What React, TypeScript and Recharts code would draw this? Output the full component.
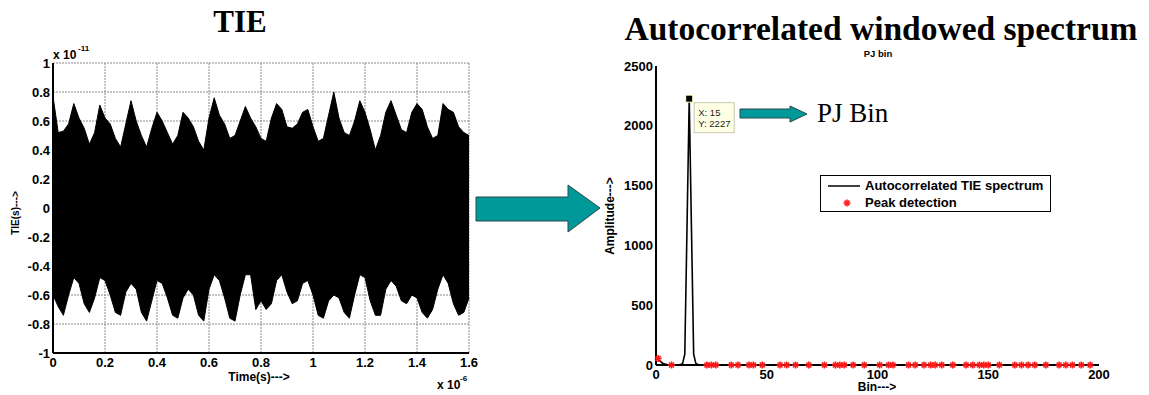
import React from "react";
import { ComposedChart, Area, Line, Scatter, XAxis, YAxis, CartesianGrid, Legend, ReferenceDot } from "recharts";

// TIE plot (values in units of 1e-11 s, time in units of 1e-6 s)
const tieTicksX = [0, 0.2, 0.4, 0.6, 0.8, 1, 1.2, 1.4, 1.6];
const tieTicksY = [-1, -0.8, -0.6, -0.4, -0.2, 0, 0.2, 0.4, 0.6, 0.8, 1];
const tieUpper = [
  0.77, 0.52, 0.53, 0.58, 0.72, 0.62, 0.55, 0.44, 0.52, 0.71,
  0.62, 0.58, 0.48, 0.42, 0.58, 0.74, 0.6, 0.5, 0.42, 0.55,
  0.66, 0.6, 0.52, 0.44, 0.5, 0.66, 0.62, 0.56, 0.46, 0.4,
  0.62, 0.76, 0.64, 0.58, 0.48, 0.5, 0.6, 0.7, 0.62, 0.56,
  0.48, 0.46, 0.62, 0.72, 0.68, 0.56, 0.55, 0.58, 0.66, 0.68,
  0.56, 0.46, 0.48, 0.64, 0.8, 0.62, 0.52, 0.5, 0.6, 0.74,
  0.66, 0.54, 0.4, 0.5, 0.66, 0.74, 0.64, 0.54, 0.52, 0.66,
  0.72, 0.68, 0.56, 0.48, 0.5, 0.72, 0.68, 0.66, 0.56, 0.52,
  0.5,
];
const tieLower = [
  -0.6, -0.68, -0.74, -0.6, -0.48, -0.52, -0.66, -0.72, -0.62, -0.48,
  -0.5, -0.6, -0.72, -0.74, -0.58, -0.52, -0.56, -0.72, -0.78, -0.64,
  -0.5, -0.52, -0.62, -0.74, -0.76, -0.62, -0.56, -0.6, -0.74, -0.78,
  -0.56, -0.46, -0.5, -0.62, -0.76, -0.78, -0.6, -0.46, -0.46, -0.7,
  -0.64, -0.7, -0.66, -0.5, -0.46, -0.58, -0.66, -0.64, -0.52, -0.5,
  -0.6, -0.74, -0.76, -0.64, -0.6, -0.62, -0.72, -0.76, -0.6, -0.46,
  -0.48, -0.64, -0.74, -0.74, -0.56, -0.5, -0.54, -0.64, -0.66, -0.6,
  -0.62, -0.72, -0.76, -0.7, -0.56, -0.46, -0.52, -0.66, -0.74, -0.72,
  -0.62,
];
const tieStep = 0.02;

// spectrum plot
const binTicks = [0, 50, 100, 150, 200];
const ampTicks = [0, 500, 1000, 1500, 2000, 2500];
const specBins = [0, 1, 2, 3, 4, 5, 6, 8, 10, 11, 12, 13, 14, 15, 16, 17, 18, 19, 20, 60, 120, 200];
const specAmp = [60, 50, 30, 15, 8, 4, 2, 0, 0, 3, 12, 90, 1150, 2227, 1150, 90, 12, 3, 0, 0, 0, 0];
const peakBins = [
  1, 7, 23, 25, 27, 34, 37, 42, 44, 48, 56, 59, 63, 69, 76, 81, 83, 85, 89, 94,
  101, 105, 107, 114, 117, 121, 124, 126, 129, 134, 140, 143, 146, 148, 150, 155,
  162, 165, 168, 171, 176, 182, 185, 188, 192, 196,
];
const peakAmp = [
  55, 0, 0, 0, 0, 0, 0, 0, 0, 0, 0, 0, 0, 0, 0, 0, 0, 0, 0, 0,
  0, 0, 0, 0, 0, 0, 0, 0, 0, 0, 0, 0, 0, 0, 0, 0,
  0, 0, 0, 0, 0, 0, 0, 0, 0, 0,
];
const pjBin = 15;
const pjAmp = 2227;

const tieData = tieUpper.map((u, i) => ({ t: +(i * tieStep).toFixed(2), range: [tieLower[i], u] }));
const specData = specBins.map((b, i) => ({ bin: b, amp: specAmp[i] }));
const peakData = peakBins.map((b, i) => ({ bin: b, amp: peakAmp[i] }));

const SANS = "'Liberation Sans', Arial, sans-serif";
const SERIF = "'Liberation Serif', 'Times New Roman', serif";
const tickStyle = { fontSize: 13, fontWeight: 700, fill: "#000", fontFamily: SANS };
const fmt1 = (v: number) => String(+v.toFixed(1));
const TEAL = "#009999";

function Star({ cx, cy }: any) {
  const r = 3.5;
  return (
    <g stroke="#ff1a1a" strokeWidth={1.6}>
      <line x1={cx - r} y1={cy} x2={cx + r} y2={cy} />
      <line x1={cx} y1={cy - r} x2={cx} y2={cy + r} />
      <line x1={cx - r * 0.7} y1={cy - r * 0.7} x2={cx + r * 0.7} y2={cy + r * 0.7} />
      <line x1={cx - r * 0.7} y1={cy + r * 0.7} x2={cx + r * 0.7} y2={cy - r * 0.7} />
    </g>
  );
}

function DataTip(p: any) {
  const { cx, cy } = p;
  return (
    <g>
      <rect x={cx - 3.5} y={cy - 3.5} width={7} height={7} fill="#000" stroke="#ffffcc" strokeWidth={1} />
      <rect x={cx + 5} y={cy + 4} width={40} height={30} fill="#ffffe6" stroke="#c8c8b4" strokeWidth={1} />
      <text x={cx + 9} y={cy + 17} fontSize={9.5} fontFamily={SANS} fill="#222">X: {pjBin}</text>
      <text x={cx + 9} y={cy + 28} fontSize={9.5} fontFamily={SANS} fill="#222">Y: {pjAmp}</text>
    </g>
  );
}

function SpecLegend({ payload }: any) {
  return (
    <div style={{ border: "1.5px solid #000", background: "#fff", width: 229, height: 35, boxSizing: "content-box" }}>
      {(payload || []).map((e: any, i: number) => (
        <div key={i} style={{ display: "flex", alignItems: "center", height: 17, marginTop: i === 0 ? 1 : 0 }}>
          <svg width={44} height={17}>
            {e.type === "line" ? (
              <line x1={7} y1={9} x2={39} y2={9} stroke="#000" strokeWidth={1.5} />
            ) : (
              <Star cx={26} cy={9} />
            )}
          </svg>
          <span style={{ fontFamily: SANS, fontWeight: 700, fontSize: 13, color: "#000" }}>{e.value}</span>
        </div>
      ))}
    </div>
  );
}

function TieChart() {
  return (
    <ComposedChart width={480} height={395} data={tieData} margin={{ top: 63, right: 11, bottom: 0, left: 0 }}>
      <CartesianGrid stroke="#8a8a8a" strokeDasharray="2 1" horizontalValues={tieTicksY} verticalValues={tieTicksX} />
      <XAxis
        dataKey="t"
        type="number"
        domain={[0, 1.6]}
        ticks={tieTicksX}
        tickFormatter={fmt1}
        height={42}
        tickSize={4}
        tickMargin={1}
        tickLine={false}
        tick={tickStyle}
        axisLine={{ stroke: "#000", strokeWidth: 2 }}
        interval={0}
      />
      <XAxis xAxisId="top" orientation="top" type="number" domain={[0, 1.6]} ticks={tieTicksX} height={0} mirror tick={false} tickLine={false} axisLine={{ stroke: "#000", strokeWidth: 2 }} />
      <YAxis
        type="number"
        domain={[-1, 1]}
        ticks={tieTicksY}
        tickFormatter={fmt1}
        width={53}
        tickSize={3}
        tickMargin={0}
        tickLine={false}
        tick={tickStyle}
        axisLine={{ stroke: "#000", strokeWidth: 2 }}
        interval={0}
      />
      <YAxis yAxisId="right" orientation="right" type="number" domain={[-1, 1]} ticks={tieTicksY} width={0} mirror tick={false} tickLine={false} axisLine={{ stroke: "#000", strokeWidth: 2 }} />
      <Area dataKey="range" type="linear" stroke="#000" strokeWidth={1} fill="#000" fillOpacity={1} isAnimationActive={false} dot={false} activeDot={false} />
    </ComposedChart>
  );
}

function SpecChart() {
  const inner = { stroke: "#000", strokeWidth: 1 };
  const frame = { stroke: "#000", strokeWidth: 2 };
  return (
    <ComposedChart width={549} height={395} margin={{ top: 66, right: 50, bottom: 0, left: 0 }}>
      <XAxis
        dataKey="bin"
        type="number"
        domain={[0, 200]}
        ticks={binTicks}
        height={30}
        tickSize={4}
        tickMargin={1}
        tickLine={false}
        tick={tickStyle}
        axisLine={frame}
        interval={0}
      />
      <XAxis xAxisId="bIn" orientation="bottom" type="number" domain={[0, 200]} ticks={binTicks} height={0} mirror tick={false} tickSize={4} tickLine={inner} axisLine={false} />
      <XAxis xAxisId="top" orientation="top" type="number" domain={[0, 200]} ticks={binTicks} height={0} mirror tick={false} tickSize={4} tickLine={inner} axisLine={frame} />
      <YAxis
        dataKey="amp"
        type="number"
        domain={[0, 2500]}
        ticks={ampTicks}
        width={56}
        tickSize={3}
        tickMargin={0}
        tickLine={false}
        tick={tickStyle}
        axisLine={frame}
        interval={0}
      />
      <YAxis yAxisId="lIn" orientation="left" type="number" domain={[0, 2500]} ticks={ampTicks} width={0} mirror tick={false} tickSize={4} tickLine={inner} axisLine={false} />
      <YAxis yAxisId="right" orientation="right" type="number" domain={[0, 2500]} ticks={ampTicks} width={0} mirror tick={false} tickSize={4} tickLine={inner} axisLine={frame} />
      <Line data={specData} dataKey="amp" name="Autocorrelated TIE spectrum" type="linear" stroke="#000" strokeWidth={1.6} dot={false} activeDot={false} legendType="line" isAnimationActive={false} />
      <Scatter data={peakData} dataKey="amp" name="Peak detection" shape={<Star />} legendType="star" isAnimationActive={false} />
      <ReferenceDot x={pjBin} y={pjAmp} r={4} shape={<DataTip />} />
      <Legend
        layout="vertical"
        align="center"
        verticalAlign="middle"
        content={<SpecLegend />}
        wrapperStyle={{ left: 220, top: 175, width: 232, height: 38 }}
      />
    </ComposedChart>
  );
}

function Overlay() {
  return (
    <svg width={1149} height={395} style={{ position: "absolute", left: 0, top: 0, pointerEvents: "none" }}>
      <text x={240} y={32} textAnchor="middle" fontFamily={SERIF} fontWeight={700} fontSize={31}>TIE</text>
      <text x={881} y={40} textAnchor="middle" fontFamily={SERIF} fontWeight={700} fontSize={33.5}>Autocorrelated windowed spectrum</text>

      <text x={53} y={59} fontFamily={SANS} fontWeight={700} fontSize={12}>x 10</text>
      <text x={78} y={51} fontFamily={SANS} fontWeight={700} fontSize={8}>-11</text>
      <text x={437} y={389} fontFamily={SANS} fontWeight={700} fontSize={12}>x 10</text>
      <text x={460} y={381} fontFamily={SANS} fontWeight={700} fontSize={8}>-6</text>
      <text x={259} y={381} textAnchor="middle" fontFamily={SANS} fontWeight={700} fontSize={12}>Time(s)---&gt;</text>
      <text transform="translate(19,213) rotate(-90)" textAnchor="middle" fontFamily={SANS} fontWeight={700} fontSize={10}>TIE(s)---&gt;</text>

      <text x={878} y={57} textAnchor="middle" fontFamily={SANS} fontWeight={700} fontSize={9.5}>PJ bin</text>
      <text x={877} y={391} textAnchor="middle" fontFamily={SANS} fontWeight={700} fontSize={12}>Bin---&gt;</text>
      <text transform="translate(614,216) rotate(-90)" textAnchor="middle" fontFamily={SANS} fontWeight={700} fontSize={12}>Amplitude---&gt;</text>

      <polygon points="476,197 568,197 568,185 600,208 568,232 568,221 476,221" fill={TEAL} stroke="#2a4a4a" strokeWidth={1} />
      <polygon points="740,109 790,109 790,106 807,114 790,122 790,118 740,118" fill={TEAL} stroke="#2a4a4a" strokeWidth={1} />
      <text x={817} y={122} fontFamily={SERIF} fontSize={27}>PJ Bin</text>
    </svg>
  );
}

export default function App() {
  return (
    <div style={{ position: "absolute", left: 0, top: 0, width: 1149, height: 395, background: "#fff", overflow: "hidden" }}>
      <div style={{ position: "absolute", left: 0, top: 0 }}>
        <TieChart />
      </div>
      <div style={{ position: "absolute", left: 600, top: 0 }}>
        <SpecChart />
      </div>
      <Overlay />
    </div>
  );
}
